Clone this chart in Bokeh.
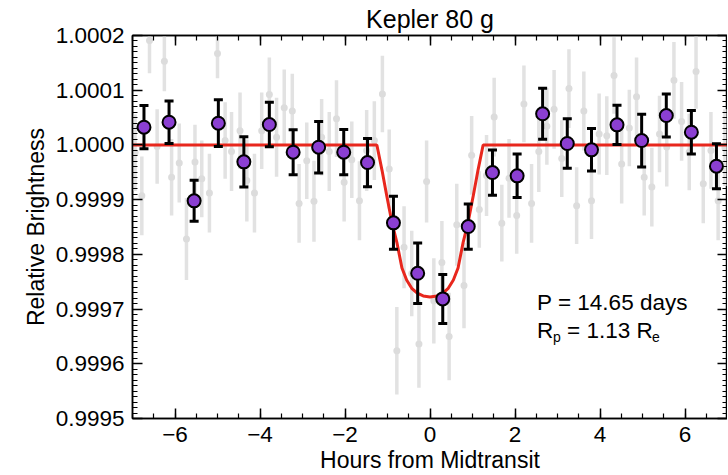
import numpy as np
from bokeh.plotting import figure
from bokeh.models import (Range1d, LinearAxis, FixedTicker,
                          ColumnDataSource, Label, NumeralTickFormatter,
                          CustomJSTickFormatter)
from bokeh.embed import file_html
from bokeh.resources import INLINE

# ---------------- data (hours from midtransit, deviation in ppm) -------------
bin_t = [-6.73, -6.14, -5.55, -4.98, -4.38, -3.78, -3.22, -2.62, -2.03, -1.47,
         -0.86, -0.29, 0.30, 0.90, 1.47, 2.05, 2.65, 3.23, 3.80, 4.40,
         4.98, 5.56, 6.15, 6.74]
bin_ppm = [32.4, 41.5, -102.2, 39.7, -30.9, 37.3, -13.3, -4.2, -13.3, -32.2,
           -142.4, -234.6, -281.4, -149.2, -50.5, -56.5, 56.9, 2.6, -9.0, 36.7,
           8.0, 53.7, 23.2, -38.9]
bin_err_ppm = [39.6, 38.9, 37.5, 42.7, 46.0, 40.5, 41.1, 47.2, 41.4, 44.1,
               48.4, 55.4, 44.8, 41.4, 41.4, 39.7, 46.6, 45.4, 38.8, 35.9,
               48.2, 39.3, 39.6, 41.1]

raw_t = [-6.94, -6.78, -6.60, -6.42, -6.25, -6.08, -5.90, -5.73, -5.53, -5.37,
         -5.19, -5.00, -4.82, -4.67, -4.47, -4.31, -4.13, -3.96, -3.78, -3.61,
         -3.43, -3.24, -3.08, -2.90, -2.73, -2.55, -2.37, -2.20, -2.02, -1.84,
         -1.66, -1.49, -1.31, -1.12, -0.96, -0.78, -0.61, -0.43, -0.26, -0.08,
         0.09, 0.28, 0.45, 0.63, 0.80, 0.98, 1.16, 1.33, 1.51, 1.69,
         1.86, 2.04, 2.21, 2.39, 2.56, 2.75, 2.92, 3.10, 3.27, 3.45,
         3.62, 3.80, 3.98, 4.16, 4.33, 4.51, 4.69, 4.86, 5.04, 5.22,
         5.40, 5.57, 5.74, 5.92, 6.10, 6.26, 6.43, 6.61, 6.78, 6.94]
raw_ppm = [-14, -93, 191, -3, 153, -59, -33, -172, -31, -62,
           -88, 167, 8, -12, 26, -65, -88, 26, 92, 14,
           68, 62, -107, -29, -103, 14, -12, 48, -68, -27,
           -102, -10, 8, 93, -44, -376, -187, -235, -364, -67,
           -285, -215, -350, -146, -257, -19, -118, -56, 51, -143,
           -61, -129, 75, -107, -12, 34, 65, -25, 103, -111,
           62, -102, 20, 17, 127, -35, 31, 88, -59, -77,
           20, -4, 118, 43, -13, 134, -71, -10, -102, -5]
raw_err_ppm = [70, 72, 60, 68, 55, 70, 72, 75, 68, 70,
               72, 45, 70, 72, 70, 75, 72, 70, 68, 72,
               70, 68, 72, 70, 74, 70, 72, 70, 72, 70,
               72, 74, 72, 70, 72, 80, 75, 78, 80, 75,
               78, 76, 80, 75, 78, 72, 70, 74, 72, 70,
               72, 70, 70, 72, 74, 70, 72, 70, 72, 70,
               72, 70, 74, 72, 70, 72, 70, 72, 70, 72,
               70, 72, 70, 72, 70, 68, 72, 70, 72, 70]

model_t = [-7.0, -1.25, -1.13, -1.02, -0.90, -0.78, -0.66, -0.55, -0.43, -0.30,
           -0.16, 0.0, 0.16, 0.30, 0.43, 0.55, 0.66, 0.78, 0.90, 1.02,
           1.13, 1.25, 7.0]
model_ppm = [0, 0, -46, -92, -140, -178, -225, -247, -262, -271,
             -276, -278, -276, -271, -262, -247, -225, -178, -140, -92,
             -46, 0, 0]

y_ticks = [0.9995, 0.9996, 0.9997, 0.9998, 0.9999, 1.0000, 1.0001, 1.0002]
x_ticks = [-6, -4, -2, 0, 2, 4, 6]

title_text = "Kepler 80 g"
x_label = "Hours from Midtransit"
y_label = "Relative Brightness"
period_text = "P = 14.65 days"

# ---------------- derived --------------------------------------------------
def flux(ppm):
    return [1.0 + v * 1e-6 for v in ppm]

bin_f = flux(bin_ppm)
bin_lo = [f - e * 1e-6 for f, e in zip(bin_f, bin_err_ppm)]
bin_hi = [f + e * 1e-6 for f, e in zip(bin_f, bin_err_ppm)]
raw_f = flux(raw_ppm)
raw_lo = [f - e * 1e-6 for f, e in zip(raw_f, raw_err_ppm)]
raw_hi = [f + e * 1e-6 for f, e in zip(raw_f, raw_err_ppm)]

bin_src = ColumnDataSource(dict(t=bin_t, f=bin_f, lo=bin_lo, hi=bin_hi))
raw_src = ColumnDataSource(dict(t=raw_t, f=raw_f, lo=raw_lo, hi=raw_hi))

FONT = "Liberation Sans"
TICK_FS = "22.5px"
LAB_FS = "23px"

x_range = Range1d(-7, 7)
y_range = Range1d(0.9995, 1.0002)

p = figure(frame_width=595, frame_height=383, output_backend="svg",
           toolbar_location=None, x_range=x_range, y_range=y_range,
           min_border_left=132, min_border_right=0, min_border_top=35,
           min_border_bottom=0, background_fill_color="white",
           border_fill_color="white")

p.title.text = title_text
p.title.align = "center"
p.title.text_font = FONT
p.title.text_font_size = "25px"
p.title.text_font_style = "normal"
p.title.text_color = "black"
p.title.standoff = 5
p.title.offset = 0

p.grid.visible = False
p.outline_line_color = "black"
p.outline_line_width = 1.5

xminor = list(np.arange(-7.0, 7.01, 0.5))
yminor = list(np.round(np.arange(0.9995, 1.00020001, 0.00001), 6))


def style_axis(ax, show_labels=True):
    ax.major_tick_in = 10
    ax.major_tick_out = 0
    ax.minor_tick_in = 5
    ax.minor_tick_out = 0
    ax.major_tick_line_width = 1.5
    ax.minor_tick_line_width = 1.2
    ax.major_tick_line_color = "black"
    ax.minor_tick_line_color = "black"
    ax.axis_line_color = "black"
    ax.axis_line_width = 1.5
    ax.major_label_text_font = FONT
    ax.axis_label_text_font = FONT
    ax.axis_label_text_font_style = "normal"
    ax.axis_label_text_color = "black"
    ax.axis_label_text_font_size = LAB_FS
    if show_labels:
        ax.major_label_text_color = "black"
        ax.major_label_text_font_size = TICK_FS
    else:
        ax.major_label_text_color = None
        ax.major_label_text_alpha = 0
        ax.major_label_text_font_size = "1px"
        ax.major_label_standoff = 0


xaxis = p.xaxis[0]
xaxis.ticker = FixedTicker(ticks=x_ticks, minor_ticks=xminor)
xaxis.formatter = CustomJSTickFormatter(
    code="return tick < 0 ? '\u2212' + Math.abs(tick) : String(tick);")
xaxis.axis_label = x_label
xaxis.major_label_standoff = 8
xaxis.axis_label_standoff = 2
style_axis(xaxis)

yaxis = p.yaxis[0]
yaxis.ticker = FixedTicker(ticks=y_ticks, minor_ticks=yminor)
yaxis.formatter = NumeralTickFormatter(format="0.0000")
yaxis.axis_label = y_label
yaxis.major_label_standoff = 8
yaxis.axis_label_standoff = 4
style_axis(yaxis)

top_ax = LinearAxis(ticker=FixedTicker(ticks=x_ticks, minor_ticks=xminor))
style_axis(top_ax, show_labels=False)
p.add_layout(top_ax, "above")
right_ax = LinearAxis(ticker=FixedTicker(ticks=y_ticks, minor_ticks=yminor))
style_axis(right_ax, show_labels=False)
p.add_layout(right_ax, "right")

GRAY = "#e2e2e2"
# raw points
p.segment(x0="t", y0="lo", x1="t", y1="hi", source=raw_src,
          line_color=GRAY, line_width=3.5)
p.scatter(x="t", y="f", source=raw_src, size=7, fill_color="#dcdcdc",
          line_color=None)

# transit model
p.line(x=model_t, y=flux(model_ppm), line_color="#e8271d", line_width=3)

# binned points with error bars and caps
p.segment(x0="t", y0="lo", x1="t", y1="hi", source=bin_src,
          line_color="black", line_width=3)
p.scatter(x="t", y="lo", source=bin_src, marker="dash", size=9,
          line_color="black", line_width=3)
p.scatter(x="t", y="hi", source=bin_src, marker="dash", size=9,
          line_color="black", line_width=3)
p.scatter(x="t", y="f", source=bin_src, size=13, fill_color="#8b3fd2",
          line_color="black", line_width=2)

# annotation
ax_t = 2.52
FS_ANN = "22.5px"
p.add_layout(Label(x=ax_t, y=0.999712, text=period_text, text_font=FONT,
                   text_font_size=FS_ANN, text_color="black",
                   text_baseline="middle"))
ry = 0.9996608
p.add_layout(Label(x=ax_t, y=ry, text="R", text_font=FONT,
                   text_font_size=FS_ANN, text_color="black",
                   text_baseline="middle"))
p.add_layout(Label(x=ax_t, y=ry, x_offset=16, y_offset=-6, text="p",
                   text_font=FONT, text_font_size="14px", text_color="black",
                   text_baseline="middle"))
p.add_layout(Label(x=ax_t, y=ry, x_offset=30, text="= 1.13 R",
                   text_font=FONT, text_font_size=FS_ANN, text_color="black",
                   text_baseline="middle"))
p.add_layout(Label(x=ax_t, y=ry, x_offset=115, y_offset=-6, text="e",
                   text_font=FONT, text_font_size="14px", text_color="black",
                   text_baseline="middle"))

open("out.html", "w").write(file_html(p, INLINE))
